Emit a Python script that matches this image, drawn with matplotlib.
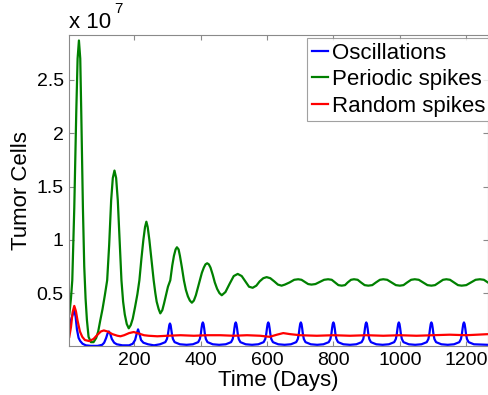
import matplotlib
matplotlib.use("Agg")
import matplotlib.pyplot as plt

# values, in units of 1e7 cells
osc_days = [5, 12, 20, 24, 28, 33, 38, 45, 55, 70, 90, 104,
            110, 116, 120, 124, 128, 133, 140, 148, 165, 185,
            196, 203, 208, 212, 216, 221, 228, 242, 260,
            278, 294, 299, 302, 304, 306, 308, 310, 312, 314, 317, 322, 338, 358,
            377, 393, 398, 401, 403, 405, 407, 409, 411, 413, 416, 421, 437, 456,
            476, 492, 497, 500, 502, 504, 506, 508, 510, 512, 515, 520, 536, 555,
            574, 590, 595, 598, 600, 602, 604, 606, 608, 610, 613, 618, 634, 653,
            672, 688, 693, 696, 698, 700, 702, 704, 706, 708, 711, 716, 732, 751,
            770, 786, 791, 794, 796, 798, 800, 802, 804, 806, 809, 814, 830, 850,
            869, 885, 890, 893, 895, 897, 899, 901, 903, 905, 908, 913, 929, 948,
            967, 983, 988, 991, 993, 995, 997, 999, 1001, 1003, 1006, 1011, 1027, 1046,
            1065, 1081, 1086, 1089, 1091, 1093, 1095, 1097, 1099, 1101, 1104, 1109, 1125, 1144,
            1163, 1179, 1184, 1187, 1189, 1191, 1193, 1195, 1197, 1199, 1202, 1207, 1223, 1265]
osc_vals = [0.18, 0.27, 0.34, 0.28, 0.16, 0.08, 0.05, 0.025, 0.01, 0.005, 0.005, 0.015,
            0.035, 0.08, 0.12, 0.14, 0.12, 0.07, 0.035, 0.02, 0.01, 0.01,
            0.025, 0.06, 0.12, 0.16, 0.12, 0.06, 0.035, 0.02, 0.01,
            0.02, 0.04, 0.07, 0.115, 0.16, 0.20, 0.215, 0.20, 0.16, 0.115, 0.07, 0.04, 0.02, 0.015,
            0.02, 0.04, 0.07, 0.12, 0.17, 0.21, 0.225, 0.21, 0.17, 0.12, 0.07, 0.04, 0.02, 0.015,
            0.02, 0.04, 0.07, 0.12, 0.17, 0.21, 0.225, 0.21, 0.17, 0.12, 0.07, 0.04, 0.02, 0.015,
            0.02, 0.04, 0.07, 0.12, 0.17, 0.21, 0.225, 0.21, 0.17, 0.12, 0.07, 0.04, 0.02, 0.015,
            0.02, 0.04, 0.07, 0.12, 0.17, 0.21, 0.225, 0.21, 0.17, 0.12, 0.07, 0.04, 0.02, 0.015,
            0.02, 0.04, 0.07, 0.12, 0.17, 0.21, 0.225, 0.21, 0.17, 0.12, 0.07, 0.04, 0.02, 0.015,
            0.02, 0.04, 0.07, 0.12, 0.17, 0.21, 0.225, 0.21, 0.17, 0.12, 0.07, 0.04, 0.02, 0.015,
            0.02, 0.04, 0.07, 0.12, 0.17, 0.21, 0.225, 0.21, 0.17, 0.12, 0.07, 0.04, 0.02, 0.015,
            0.02, 0.04, 0.07, 0.12, 0.17, 0.21, 0.225, 0.21, 0.17, 0.12, 0.07, 0.04, 0.02, 0.015,
            0.02, 0.04, 0.07, 0.12, 0.17, 0.21, 0.225, 0.21, 0.17, 0.12, 0.07, 0.04, 0.02, 0.015]

per_days = [5, 10, 14, 20, 26, 30, 34, 38, 41, 46, 50, 54, 58, 63, 70, 78,
            86, 92, 98, 105, 112, 119, 125, 131, 136, 141, 146, 151, 157, 162,
            167, 172, 178, 184, 190, 196, 203, 210, 216, 222, 228, 233, 237,
            241, 246, 252, 259, 264, 268, 274, 279, 285, 290, 296, 302, 309,
            315, 320, 325, 329, 334, 338, 344, 350, 356, 362, 368, 374, 380,
            386, 392, 398, 404, 410, 415, 420, 425, 430, 437, 443, 450, 457,
            464, 475, 488, 500, 512, 524, 535, 546, 557, 568, 578, 589, 599,
            610, 622, 633, 644, 654, 668, 682, 694, 704, 714, 724, 734, 746,
            759, 772, 784, 795, 805, 815, 825, 835, 843, 853, 862, 873, 883,
            894, 905, 917, 928, 940, 950, 962, 975, 988, 1000, 1011, 1022,
            1034, 1045, 1057, 1070, 1083, 1095, 1106, 1118, 1130, 1140, 1151,
            1163, 1175, 1186, 1200, 1214, 1228, 1241, 1253, 1265]
per_vals = [0.30, 0.45, 0.62, 1.30, 2.20, 2.70, 2.87, 2.70, 2.20, 1.30, 0.75, 0.45, 0.25, 0.09, 0.04, 0.04,
            0.08, 0.14, 0.24, 0.35, 0.48, 0.62, 0.95, 1.37, 1.58, 1.65, 1.58, 1.37, 0.95, 0.62,
            0.42, 0.30, 0.21, 0.17, 0.20, 0.26, 0.37, 0.49, 0.62, 0.82, 1.00, 1.12, 1.17,
            1.12, 1.00, 0.82, 0.62, 0.50, 0.42, 0.35, 0.31, 0.34, 0.40, 0.48, 0.56, 0.62,
            0.76, 0.85, 0.91, 0.93, 0.91, 0.85, 0.74, 0.62, 0.53, 0.47, 0.43, 0.41, 0.43,
            0.48, 0.55, 0.62, 0.69, 0.74, 0.77, 0.78, 0.77, 0.74, 0.67, 0.60, 0.54, 0.50,
            0.48, 0.51, 0.59, 0.66, 0.68, 0.66, 0.61, 0.56, 0.55, 0.57, 0.61, 0.64, 0.65,
            0.64, 0.61, 0.58, 0.57, 0.58, 0.60, 0.625, 0.63, 0.625, 0.605, 0.585, 0.58, 0.585,
            0.605, 0.625, 0.63, 0.625, 0.60, 0.575, 0.57, 0.575, 0.60, 0.625, 0.63, 0.625, 0.60,
            0.575, 0.57, 0.575, 0.60, 0.625, 0.63, 0.625, 0.60, 0.575, 0.57, 0.575, 0.60,
            0.625, 0.63, 0.625, 0.60, 0.575, 0.57, 0.575, 0.60, 0.625, 0.63, 0.625,
            0.60, 0.575, 0.57, 0.575, 0.60, 0.625, 0.63, 0.625, 0.60]

rnd_days = [5, 10, 15, 20, 25, 30, 37, 44, 52, 65, 78, 90, 100, 109, 120, 135,
            150, 159, 170, 185, 199, 215, 230, 244, 270, 300, 340, 380, 420,
            460, 500, 540, 580, 608, 630, 649, 670, 700, 750, 800, 850, 900,
            950, 1000, 1050, 1100, 1150, 1200, 1265]
rnd_vals = [0.09, 0.18, 0.32, 0.38, 0.33, 0.24, 0.14, 0.09, 0.06, 0.05, 0.07, 0.11, 0.14, 0.15, 0.14, 0.115,
            0.10, 0.095, 0.105, 0.125, 0.135, 0.12, 0.105, 0.10, 0.095, 0.10, 0.105, 0.10, 0.105,
            0.105, 0.10, 0.105, 0.10, 0.09, 0.11, 0.125, 0.115, 0.105, 0.10, 0.105, 0.10, 0.105,
            0.10, 0.105, 0.10, 0.105, 0.11, 0.105, 0.115]

x_ticks = [200, 400, 600, 800, 1000, 1200]
y_ticks = [0.5, 1, 1.5, 2, 2.5]
y_tick_labels = ["0.5", "1", "1.5", "2", "2.5"]

plt.rcParams["font.family"] = ["Liberation Sans", "DejaVu Sans"]

fig = plt.figure(figsize=(4.89, 3.95), dpi=100)
ax = fig.add_axes([0.1417, 0.123, 0.856, 0.788])

ax.plot(osc_days, osc_vals, color=(0, 0, 1), lw=1.6, label="Oscillations")
ax.plot(per_days, per_vals, color=(0, 0.5, 0), lw=1.6, label="Periodic spikes")
ax.plot(rnd_days, rnd_vals, color=(1, 0, 0), lw=1.6, label="Random spikes")

ax.set_xlim(5, 1265)
ax.set_ylim(0, 2.92)
ax.set_xticks(x_ticks)
ax.set_yticks(y_ticks)
ax.set_yticklabels(y_tick_labels)
ax.tick_params(direction="in", length=3.5, width=0.8, color="#8a8a8a",
               labelsize=14, top=True, right=True, pad=4)
for sp in ax.spines.values():
    sp.set_color("#8a8a8a")
    sp.set_linewidth(0.8)

ax.set_xlabel("Time (Days)", fontsize=16, labelpad=1)
ax.set_ylabel("Tumor Cells", fontsize=16, labelpad=3)
ax.text(0.0, 1.008, "x 10", transform=ax.transAxes, fontsize=16, ha="left", va="bottom")
ax.text(0.108, 1.06, "7", transform=ax.transAxes, fontsize=11, ha="left", va="bottom")

leg = ax.legend(loc="upper right", bbox_to_anchor=(1.004, 0.99), fontsize=16,
                frameon=True, fancybox=False, borderpad=0.2, labelspacing=0.25,
                handlelength=0.75, handletextpad=0.15, borderaxespad=0.0)
leg.get_frame().set_edgecolor("#8a8a8a")
leg.get_frame().set_linewidth(0.8)

fig.savefig("out.png", dpi=100)
